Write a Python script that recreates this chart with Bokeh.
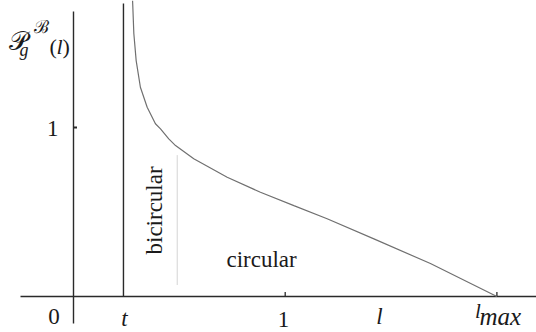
import math
from bokeh.plotting import figure
from bokeh.models import Range1d
from bokeh.embed import file_html
from bokeh.resources import INLINE
from bokeh.core.properties import value

# ---------------- data ----------------
t_val = 0.236
l_val = 1.45
l_max = 2.0
x_tick_values = [1.0, l_max]
y_tick_values = [1.0]
split_x = 0.49
split_y = [0.071, 0.834]
curve_x = [0.279, 0.280, 0.285, 0.296, 0.316, 0.348, 0.387, 0.411, 0.450, 0.482, 0.568,
           0.726, 0.883, 1.041, 1.198, 1.419, 1.686, 2.000]
curve_y = [1.751, 1.722, 1.556, 1.396, 1.238, 1.120, 1.022, 0.992, 0.933, 0.893, 0.815,
           0.706, 0.617, 0.538, 0.460, 0.341, 0.195, 0.000]
x_labels = ["0", "t", "1", "l"]
y_labels = ["1"]

# ---------------- layout helpers (page pixel -> data) ----------------
X0, UX = 73.0, 211.7
Y0, UY = 296.0, 169.0
SH = 7.0  # baseline correction (px)
def dx(px):
    return (px - X0) / UX
def dy(py):
    return (Y0 - py) / UY
def ty(py):
    return dy(py - SH)

W, H = 536, 332
p = figure(width=W, height=H, x_range=Range1d(dx(0), dx(W)), y_range=Range1d(dy(H), dy(0)),
           x_axis_type=None, y_axis_type=None, toolbar_location=None, output_backend="svg",
           min_border=0, outline_line_color=None)
p.grid.visible = False

AX = "#2a2a2a"
FONT = value("Liberation Serif")
TXT = "#1a1a1a"

# axes
p.segment(x0=[0.0], y0=[dy(11)], x1=[0.0], y1=[dy(323)], line_color=AX, line_width=1.4)
p.segment(x0=[dx(20)], y0=[0.0], x1=[dx(540)], y1=[0.0], line_color=AX, line_width=1.4)
# t line
p.segment(x0=[t_val], y0=[dy(3)], x1=[t_val], y1=[0.0], line_color=AX, line_width=1.4)
# ticks
p.segment(x0=x_tick_values, y0=[0.0] * len(x_tick_values), x1=x_tick_values,
          y1=[dy(291.5)] * len(x_tick_values), line_color=AX, line_width=1.3)
p.segment(x0=[0.0] * len(y_tick_values), y0=y_tick_values, x1=[dx(76.5)] * len(y_tick_values),
          y1=y_tick_values, line_color=AX, line_width=2)

# curve
p.line(curve_x, curve_y, line_color="#707070", line_width=1.2)
# dotted separator
p.line([split_x, split_x], split_y, line_color="#a8a8a8", line_width=1, line_dash="1 1")

# x tick labels
lab_x = [dx(53.5), dx(124), dx(283), dx(379)]
lab_y = [ty(323), ty(325), ty(326), ty(323)]
styles = ["normal", "italic", "normal", "italic"]
for s, xx, yy, st in zip(x_labels, lab_x, lab_y, styles):
    p.text(x=[xx], y=[yy], text=[s], text_font=FONT, text_font_size="23px", text_font_style=st,
           text_align="center", text_baseline="alphabetic", text_color=TXT)
# l_max
p.text(x=[dx(474.5)], y=[ty(317)], text=["l"], text_font=FONT, text_font_size="21px",
       text_font_style="italic", text_align="left", text_baseline="alphabetic", text_color=TXT)
p.text(x=[dx(479)], y=[ty(323)], text=["max"], text_font=FONT, text_font_size="25px",
       text_font_style="italic", text_align="left", text_baseline="alphabetic", text_color=TXT)

# y tick label
p.text(x=[dx(58)], y=[ty(135)], text=y_labels, text_font=FONT, text_font_size="23px",
       text_align="right", text_baseline="alphabetic", text_color=TXT)

# y axis title  P_g^B(l)
p.text(x=[dx(8)], y=[ty(48)], text=["\U0001D4AB"], text_font=FONT, text_font_size="26px",
       text_align="left", text_baseline="alphabetic", text_color=TXT)
p.text(x=[dx(19)], y=[ty(56)], text=["g"], text_font=FONT, text_font_size="18px",
       text_font_style="italic", text_align="left", text_baseline="alphabetic", text_color=TXT)
p.text(x=[dx(33)], y=[ty(33)], text=["\u212C"], text_font=FONT, text_font_size="18px",
       text_align="left", text_baseline="alphabetic", text_color=TXT)
p.text(x=[dx(49)], y=[ty(53)], text=["("], text_font=FONT, text_font_size="22px",
       text_align="left", text_baseline="alphabetic", text_color=TXT)
p.text(x=[dx(56)], y=[ty(53)], text=["l"], text_font=FONT, text_font_size="22px",
       text_font_style="italic", text_align="left", text_baseline="alphabetic", text_color=TXT)
p.text(x=[dx(62)], y=[ty(53)], text=[")"], text_font=FONT, text_font_size="22px",
       text_align="left", text_baseline="alphabetic", text_color=TXT)

# region labels
p.text(x=[dx(161 - SH)], y=[dy(254)], text=["bicircular"], angle=math.pi / 2, text_font=FONT,
       text_font_size="23px", text_align="left", text_baseline="alphabetic", text_color=TXT)
p.text(x=[dx(226)], y=[ty(265.7)], text=["circular"], text_font=FONT,
       text_font_size="23px", text_align="left", text_baseline="alphabetic", text_color=TXT)

open("out.html", "w").write(file_html(p, INLINE))
